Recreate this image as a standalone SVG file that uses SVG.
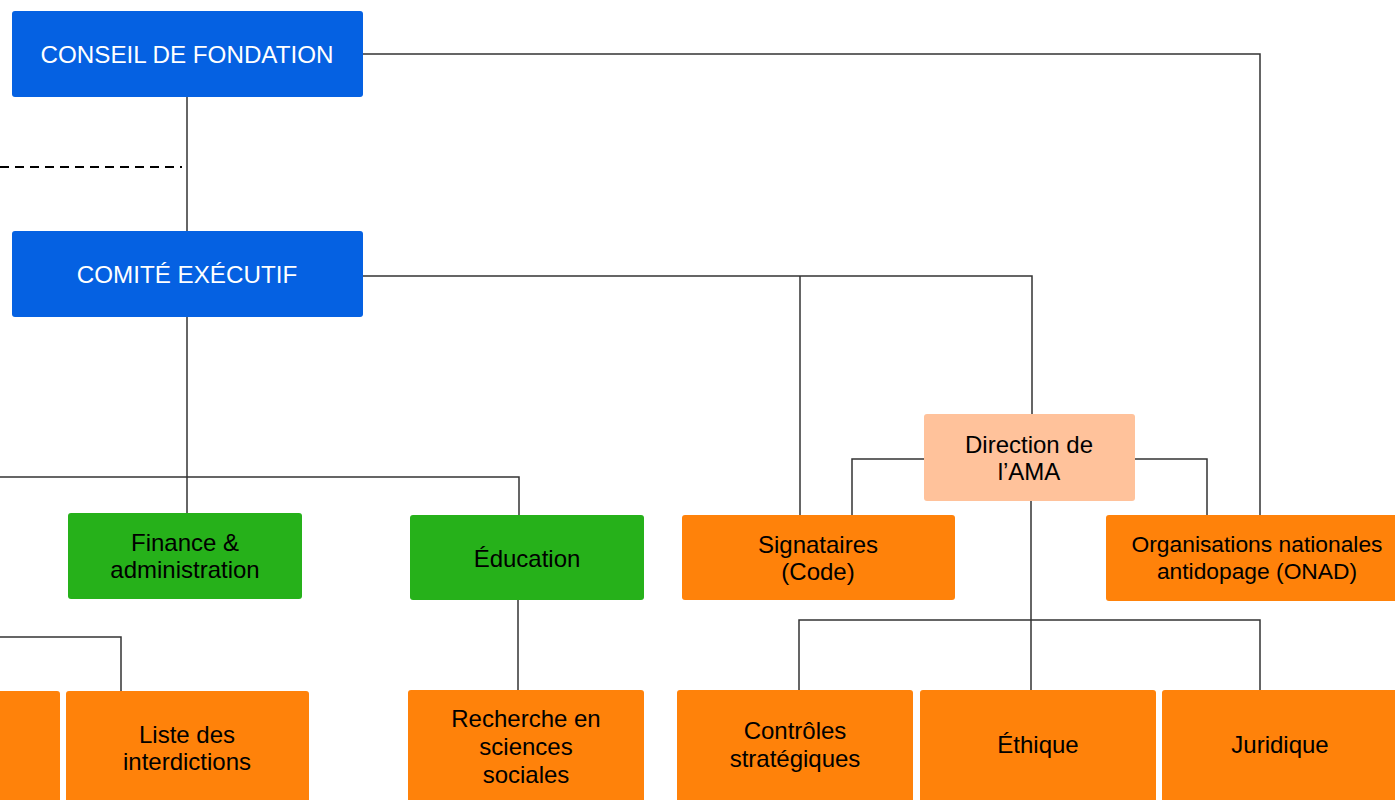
<svg xmlns="http://www.w3.org/2000/svg" width="1395" height="800" viewBox="0 0 1395 800">
<style>
.n rect{rx:3px;ry:3px}
.blue{fill:#0561E2}
.green{fill:#26B11A}
.orange{fill:#FF820A}
.peach{fill:#FFC29B}
text{font-family:"Liberation Sans",Arial,sans-serif;font-size:24px;text-anchor:middle;fill:#000}
.w{fill:#fff;font-size:24.2px}
.s{font-size:22.8px}
.c{fill:none;stroke:#333;stroke-width:1.5}
.d{fill:none;stroke:#000;stroke-width:2;stroke-dasharray:9 6}
</style>
<rect width="1395" height="800" fill="#fff"/>
<g id="connectors">
<path class="d" d="M0 167H182"/>
<path class="c" d="M187 97V231"/>
<path class="c" d="M187 317V513"/>
<path class="c" d="M363 54H1260V515"/>
<path class="c" d="M363 276H1032V414"/>
<path class="c" d="M800 276V515"/>
<path class="c" d="M0 477H519V515"/>
<path class="c" d="M518 600V690"/>
<path class="c" d="M0 637H121V691"/>
<path class="c" d="M924 459H852V515"/>
<path class="c" d="M1135 459H1207V515"/>
<path class="c" d="M1031 501V690"/>
<path class="c" d="M799 690V620H1260V690"/>
</g>
<g id="conseil" class="n"><rect class="blue" x="12" y="11" width="351" height="86"/><text class="w" x="187" y="63">CONSEIL DE FONDATION</text></g>
<g id="comite" class="n"><rect class="blue" x="12" y="231" width="351" height="86"/><text class="w" x="187" y="283">COMITÉ EXÉCUTIF</text></g>
<g id="finance" class="n"><rect class="green" x="68" y="513" width="234" height="86"/><text x="185" y="551">Finance &amp;</text><text x="185" y="578">administration</text></g>
<g id="education" class="n"><rect class="green" x="410" y="515" width="234" height="85"/><text x="527" y="567">Éducation</text></g>
<g id="signataires" class="n"><rect class="orange" x="682" y="515" width="273" height="85"/><text x="818" y="553">Signataires</text><text x="818" y="580">(Code)</text></g>
<g id="direction" class="n"><rect class="peach" x="924" y="414" width="211" height="87"/><text x="1029" y="453">Direction de</text><text x="1029" y="480">l’AMA</text></g>
<g id="onad" class="n"><rect class="orange" x="1106" y="515" width="300" height="86"/><text class="s" x="1257" y="552">Organisations nationales</text><text class="s" x="1257" y="579">antidopage (ONAD)</text></g>
<g id="left-cut" class="n"><rect class="orange" x="-10" y="691" width="70" height="120"/></g>
<g id="liste" class="n"><rect class="orange" x="66" y="691" width="243" height="120"/><text x="187" y="743">Liste des</text><text x="187" y="770">interdictions</text></g>
<g id="recherche" class="n"><rect class="orange" x="408" y="690" width="236" height="120"/><text x="526" y="727">Recherche en</text><text x="526" y="755">sciences</text><text x="526" y="783">sociales</text></g>
<g id="controles" class="n"><rect class="orange" x="677" y="690" width="236" height="120"/><text x="795" y="739">Contrôles</text><text x="795" y="767">stratégiques</text></g>
<g id="ethique" class="n"><rect class="orange" x="920" y="690" width="236" height="120"/><text x="1038" y="753">Éthique</text></g>
<g id="juridique" class="n"><rect class="orange" x="1162" y="690" width="236" height="120"/><text x="1280" y="753">Juridique</text></g>
</svg>
